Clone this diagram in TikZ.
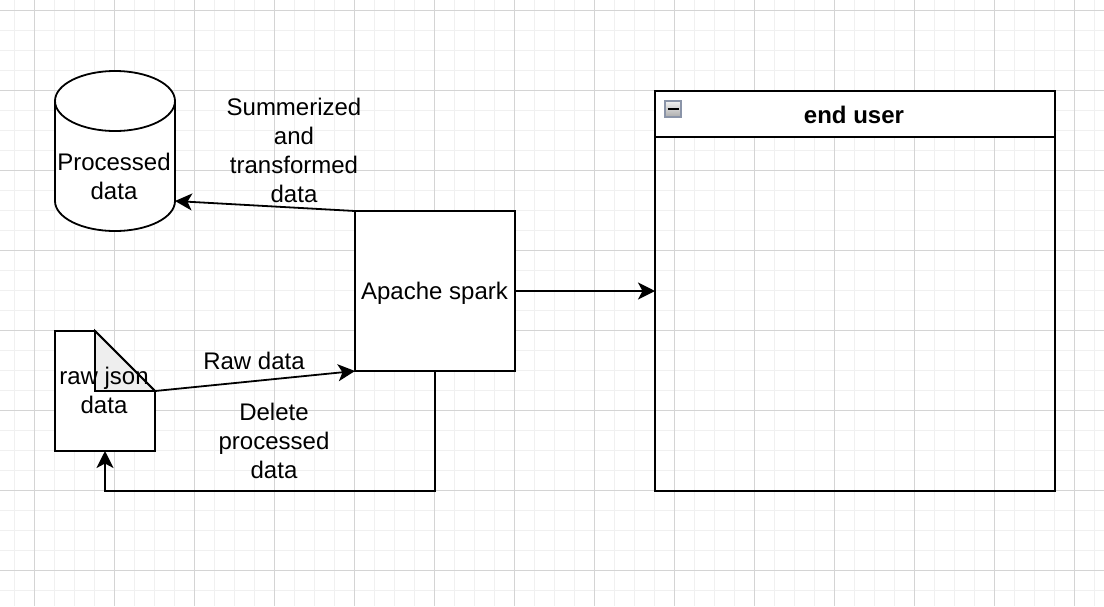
\documentclass[tikz,border=0pt]{standalone}
\usepackage{fontspec}
\setmainfont{Liberation Sans}
\usetikzlibrary{arrows.meta}
\tikzset{
  shapeline/.style={draw=black,line width=1.8pt},
  boxnode/.style={shapeline,fill=white,inner sep=0pt,outer sep=0pt,align=center,font=\fontsize{24}{29}\selectfont},
  anchorbox/.style={inner sep=0pt,outer sep=0pt,align=center,font=\fontsize{24}{29}\selectfont},
  textnode/.style={inner sep=0pt,outer sep=0pt,align=center,font=\fontsize{24}{29}\selectfont},
  conn/.style={draw=black,line width=1.8pt,-{Stealth[length=17pt,width=17pt,inset=4.5pt]}},
  minorgrid/.style={draw=gridminor,line width=1.3pt},
  majorgrid/.style={draw=gridmajor,line width=1.1pt}
}
\definecolor{gridminor}{HTML}{F0F0F0}
\definecolor{gridmajor}{HTML}{D4D4D4}
\definecolor{foldgray}{HTML}{EEEEEE}
\definecolor{iconedge}{HTML}{8A94A8}
\begin{document}
\begin{tikzpicture}[x=1pt,y=-1pt]
\useasboundingbox (0,0) rectangle (1104,606);
\fill[white] (0,0) rectangle (1104,606);
% grid
\foreach \gx in {14.5,54.5,74.5,94.5,134.5,154.5,174.5,214.5,234.5,254.5,294.5,314.5,334.5,374.5,394.5,414.5,454.5,474.5,494.5,534.5,554.5,574.5,614.5,634.5,654.5,694.5,714.5,734.5,774.5,794.5,814.5,854.5,874.5,894.5,934.5,954.5,974.5,1014.5,1034.5,1054.5,1094.5}
  \draw[minorgrid] (\gx,0) -- (\gx,606);
\foreach \gy in {30.5,50.5,70.5,110.5,130.5,150.5,190.5,210.5,230.5,270.5,290.5,310.5,350.5,370.5,390.5,430.5,450.5,470.5,510.5,530.5,550.5,590.5}
  \draw[minorgrid] (0,\gy) -- (1104,\gy);
\foreach \gx in {34.5,114.5,194.5,274.5,354.5,434.5,514.5,594.5,674.5,754.5,834.5,914.5,994.5,1074.5}
  \draw[majorgrid] (\gx,0) -- (\gx,606);
\foreach \gy in {10.5,90.5,170.5,250.5,330.5,410.5,490.5,570.5}
  \draw[majorgrid] (0,\gy) -- (1104,\gy);
% cylinder
\path[shapeline,fill=white] (55,101) -- (55,201)
  arc[start angle=180,end angle=360,x radius=60pt,y radius=30pt] -- (175,101)
  arc[start angle=0,end angle=180,x radius=60pt,y radius=30pt] -- cycle;
\draw[shapeline] (55,101) arc[start angle=180,end angle=360,x radius=60pt,y radius=30pt];
\node[anchorbox,minimum width=120pt,minimum height=160pt] (cyl) at (115,151) {};
\coordinate (cylin) at (175,201);
\node[textnode] (cyltext) at (114,176.5) {Processed\\data};
% document
\path[shapeline,fill=white,line join=miter] (55,331) -- (95,331) -- (155,391) -- (155,451) -- (55,451) -- cycle;
\path[shapeline,fill=foldgray,line join=miter] (95,331) -- (155,391) -- (95,391) -- cycle;
\node[anchorbox,minimum width=100pt,minimum height=120pt] (doc) at (105,391) {};
\coordinate (docout) at (155,391);
\node[textnode] (doctext) at (104,390.5) {raw json\\data};
% spark
\node[boxnode,minimum width=160pt,minimum height=160pt] (spark) at (435,291) {};
\node[textnode,anchor=base] (sparktext) at (434.5,299) {Apache spark};
% end user container
\node[anchorbox,shapeline,minimum width=400pt,minimum height=400pt] (enduser) at (855,291) {};
\path[shapeline,fill=white] (655,91) rectangle (1055,137);
\node[textnode,font=\fontsize{24}{29}\selectfont\bfseries] (title) at (854,115) {end user};
\node[inner sep=0pt,outer sep=0pt,minimum width=16pt,minimum height=16pt,draw=iconedge,line width=2pt,top color=gray!10,bottom color=gray!65] (icon) at (673,109) {};
\draw[black,line width=2pt] (icon.center) ++(-5.5,0) -- ++(11,0);
% connectors
\draw[conn] (spark.north west) -- (cylin);
\draw[conn] (docout) -- (spark.south west);
\draw[conn] (spark.south) -- (spark.south |- enduser.south) -- (doc.south |- enduser.south) -- (doc.south);
\draw[conn] (spark.east) -- (enduser.west);
% labels
\node[textnode] (lbla) at (294,150) {Summerized\\and\\transformed\\data};
\node[textnode] (lblb) at (254,360.5) {Raw data};
\node[textnode] (lblc) at (274,440.5) {Delete\\processed\\data};
\end{tikzpicture}
\end{document}
